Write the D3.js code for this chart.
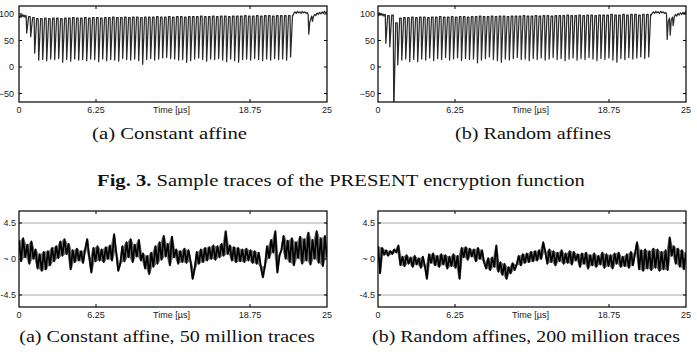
<!DOCTYPE html>
<html>
<head>
<meta charset="utf-8">
<script src="https://cdn.jsdelivr.net/npm/d3@7"></script>
<style>
  body { margin: 0; background: #fff; }
  svg { display: block; }
</style>
</head>
<body>
<div id="fig"></div>
<script>
// tick values and labels
const xTicks = [0, 6.25, 18.75, 25];
const xTickLabels = ["0", "6.25", "18.75", "25"];
const topYTicks = [100, 50, 0, -50];
const topYLabels = ["100", "50", "0", "\u221250"];
const botYTicks = [4.5, 0, -4.5];
const botYLabels = ["4.5", "~ 0", "-4.5"];
const gridLevels = [4.5, -4.5];

// (a) constant affine sample trace
const headA = [[0, 96], [0.07, 93], [0.13, 98], [0.2, 94], [0.27, 99], [0.34, 95], [0.41, 98], [0.48, 94], [0.55, 97]];
const spikeSpanA = [0.58, 22.0];
const spikePeakA = [
  97, 95, 93, 91, 91, 92, 91, 92, 92, 91,
  92, 92, 93, 92, 92, 93, 92, 93, 93, 92,
  93, 93, 94, 93, 93, 94, 93, 94, 94, 93,
  94, 94, 94, 95, 94, 94, 95, 94, 95, 95,
  94, 95, 95, 95, 96, 95, 95, 96, 95, 96,
  96, 95, 96, 96, 96, 97, 96, 96, 97, 96,
  97, 97, 96, 97, 97, 97, 97];
const spikeMinA = [
  64, 57, 26, 13, 14, 12, 15, 14, 16, 9,
  14, 11, 15, 13, 14, 12, 15, 14, 10, 15,
  12, 14, 13, 11, 16, 14, 13, 15, 12, 5,
  14, 16, 13, 15, 17, 18, 16, 15, 13, 14,
  9, 12, 15, 17, 14, 11, 15, 14, 16, 13,
  10, 15, 12, 9, 14, 15, 13, 16, 14, 12,
  15, 13, 16, 14, 15, 13, 19];
const tailA = [[22.22, 96], [22.3, 101], [22.4, 104], [22.5, 101], [22.6, 105], [22.7, 102], [22.8, 104],
  [22.9, 101], [23.0, 105], [23.1, 102], [23.2, 104], [23.3, 101], [23.4, 103], [23.47, 99], [23.52, 62],
  [23.6, 84], [23.7, 92], [23.76, 96], [23.82, 86], [23.9, 95], [24.0, 99], [24.1, 97], [24.2, 102],
  [24.3, 99], [24.4, 103], [24.5, 100], [24.6, 104], [24.7, 101], [24.8, 105], [24.9, 102], [25, 104]];

// (b) random affines sample trace
const headB = [[0, 100], [0.07, 97], [0.13, 102], [0.2, 98], [0.27, 101], [0.34, 97], [0.41, 100], [0.48, 96], [0.55, 99]];
const spikeSpanB = [0.59, 21.93];
const spikePeakB = [
  99, 97, 98, 83, 92, 93, 93, 94, 93, 94,
  94, 93, 94, 94, 95, 94, 94, 95, 94, 95,
  95, 94, 95, 95, 96, 95, 95, 96, 95, 96,
  96, 95, 96, 96, 96, 97, 96, 96, 97, 96,
  97, 97, 96, 97, 97, 97, 98, 97, 97, 98,
  97, 98, 98, 97, 98, 98, 98, 99, 98, 98,
  99, 98, 99, 99, 98, 99, 99];
const spikeMinB = [
  45, 38, -90, 4, 13, 15, 10, 14, 10, 15,
  13, 17, 12, 16, 14, 18, 13, 15, 17, 12,
  16, 14, 15, 8, 13, 16, 19, 14, 12, 9,
  15, 13, 16, 18, 14, 15, 12, 16, 14, 17,
  13, 15, 18, 14, 16, 12, 15, 17, 13, 16,
  14, 18, 15, 12, 16, 14, 17, 13, 9, 16,
  14, 18, 15, 17, 19, 16, 19];
const tailB = [[22.15, 97], [22.25, 101], [22.35, 104], [22.45, 101], [22.55, 105], [22.65, 102], [22.75, 104],
  [22.85, 101], [22.95, 105], [23.05, 102], [23.15, 104], [23.25, 101], [23.35, 103], [23.42, 100], [23.47, 52],
  [23.56, 86], [23.66, 92], [23.72, 60], [23.8, 88], [23.9, 94], [23.96, 78], [24.05, 95], [24.15, 99],
  [24.25, 96], [24.35, 101], [24.45, 98], [24.55, 102], [24.65, 99], [24.75, 103], [24.85, 100], [24.95, 104], [25, 101]];

// t-test traces, evenly sampled over 0..25 us
const tTestA = [
  2.3, -0.3, 2.6, 0.2, 1.8, -0.6, 2.2, 0.0, 1.2, -1.2,
  0.6, -1.5, 0.9, -1.3, 1.0, -0.8, 1.4, -0.3, 1.6, 0.1,
  2.2, 0.4, 2.5, 0.6, 1.9, -1.3, 1.1, -0.4, 1.3, -0.2,
  1.0, -0.5, 1.2, 2.5, 0.2, -1.7, 1.4, -0.3, 1.6, -0.2,
  1.2, -0.4, 1.5, 0.0, 1.7, -0.2, 3.1, 0.9, -1.5, -0.6,
  1.6, -0.3, 2.1, 0.2, 2.5, -0.4, 1.8, 0.3, 2.4, -0.2,
  0.7, -1.2, 0.4, -1.9, 0.8, -1.0, 1.6, -0.6, 2.1, -0.1,
  2.9, 0.3, 1.9, -0.8, 2.8, 0.2, 1.2, -0.6, 1.0, -0.4,
  1.3, -0.5, 1.1, -0.3, -2.5, -1.2, 0.9, -0.6, 1.2, -0.4,
  1.4, -0.2, 1.5, 0.0, 1.7, -0.1, 1.6, 0.2, 1.9, 0.4,
  3.5, 0.6, 1.7, -0.2, 1.5, -0.4, 1.4, -0.3, 1.2, -0.4,
  1.3, -0.2, 1.1, -0.5, 1.0, -0.6, 0.8, -1.0, -2.3, -0.8,
  1.6, 0.1, 2.4, 0.8, 3.5, -1.7, 0.4, 1.2, 2.9, 0.0,
  2.3, -0.4, 2.6, -0.8, 2.1, 0.1, 2.8, -0.6, 2.5, -0.2,
  3.3, -0.7, 2.4, 0.0, 3.5, -0.5, 2.6, -0.9, 2.9, 0.2];
const tTestB = [
  1.6, -1.8, 1.4, 0.5, 1.1, 0.4, 1.0, 0.6, 1.2, 0.8,
  1.7, -0.8, 0.3, -0.9, 0.5, -0.6, 0.2, -1.0, 0.4, -0.7,
  0.1, -1.1, 0.3, -0.9, -2.5, 0.6, -0.5, 0.7, -0.8, 0.4,
  -1.0, 0.6, -0.7, 0.5, -1.2, 0.3, -0.9, 0.6, -1.1, 0.4,
  -2.5, 1.4, 0.2, 1.5, -0.1, 1.3, 0.3, 1.2, -0.3, 1.4,
  0.0, 1.1, -0.4, -1.2, 0.1, -1.4, 0.2, -1.0, 1.7, -1.6,
  -0.4, -2.0, -0.6, -2.5, -1.0, -1.8, -0.5, -1.4, -0.7, 0.4,
  -0.8, 0.6, -0.5, 0.7, -0.4, 0.9, -0.3, 1.0, -0.2, 1.1,
  0.0, 2.1, 0.9, -0.6, 1.2, -0.4, 1.0, -0.8, 0.8, -0.3,
  1.1, -0.6, 0.7, -0.5, 1.0, -0.7, 0.9, -0.2, 0.6, -1.0,
  0.7, -0.6, 0.8, -1.2, 0.5, -0.8, 0.7, -1.0, 0.4, -0.7,
  0.8, -1.1, 0.6, -0.9, 0.5, -1.2, 0.7, -0.6, 0.8, -1.0,
  0.3, -0.9, 0.6, -1.1, 0.9, -0.8, 0.7, 2.1, -1.3, 1.1,
  -1.5, 1.2, -1.2, 1.0, -1.4, 1.3, -1.1, 1.2, -1.5, 0.9,
  -1.3, 1.1, -1.4, 2.7, 0.4, 1.6, -0.6, 1.3, -1.0, 1.1,
  -1.3, 0.8];

const W = 697, H = 354;
const svg = d3.select("#fig").append("svg")
  .attr("width", W).attr("height", H)
  .attr("viewBox", `0 0 ${W} ${H}`);

const sans = "'Liberation Sans', Arial, sans-serif";
const serif = "'Liberation Serif', 'Times New Roman', serif";

// build the spike train of a sample trace
function sampleTrace(head, span, peaks, mins, tail) {
  const idx = d3.scaleLinear().domain([0, mins.length - 1]).range(span);
  const dt = idx(1) - idx(0);
  const pts = head.slice();
  mins.forEach((m, i) => {
    const t = idx(i);
    const next = i + 1 < peaks.length ? peaks[i + 1] : peaks[i];
    pts.push([t, peaks[i]]);
    pts.push([t + dt * 0.14, m]);
    pts.push([t + dt * 0.62, next]);
  });
  return pts.concat(tail);
}

function drawPanel(p, n) {
  const x = d3.scaleLinear().domain([0, 25]).range([p.x0, p.x1]);
  const y = d3.scaleLinear().domain(p.yDomain).range([p.y1, p.y0]);
  const g = svg.append("g");

  g.append("clipPath").attr("id", "clip" + n)
    .append("rect")
    .attr("x", p.x0).attr("y", p.y0)
    .attr("width", p.x1 - p.x0).attr("height", p.y1 - p.y0);

  if (p.grid) {
    g.selectAll("line.grid").data(p.grid).enter().append("line")
      .attr("class", "grid")
      .attr("x1", p.x0).attr("x2", p.x1)
      .attr("y1", d => y(d)).attr("y2", d => y(d))
      .attr("stroke", "#a8a8a8").attr("stroke-width", 1);
  }

  // dense noise: fill the band between neighbouring samples
  if (p.band) {
    const pairs = d3.pairs(p.points);
    const area = d3.area()
      .x(d => x((d[0][0] + d[1][0]) / 2))
      .y0(d => y(Math.min(d[0][1], d[1][1])))
      .y1(d => y(Math.max(d[0][1], d[1][1])));
    g.append("path")
      .datum(pairs)
      .attr("clip-path", `url(#clip${n})`)
      .attr("fill", "#000").attr("fill-opacity", 0.55)
      .attr("d", area);
  }

  const line = d3.line().x(d => x(d[0])).y(d => y(d[1]));
  g.append("path")
    .datum(p.points)
    .attr("clip-path", `url(#clip${n})`)
    .attr("fill", "none")
    .attr("stroke", p.color)
    .attr("stroke-width", p.lw)
    .attr("stroke-linejoin", "round")
    .attr("d", line);

  // inward ticks on all four sides
  const tl = 3;
  const innerX = xTicks.filter(d => d > 0 && d < 25);
  innerX.forEach(d => {
    g.append("line").attr("x1", x(d)).attr("x2", x(d)).attr("y1", p.y1).attr("y2", p.y1 - tl)
      .attr("stroke", "#000");
    g.append("line").attr("x1", x(d)).attr("x2", x(d)).attr("y1", p.y0).attr("y2", p.y0 + tl)
      .attr("stroke", "#000");
  });
  p.yTicks.forEach(d => {
    g.append("line").attr("x1", p.x0).attr("x2", p.x0 + tl).attr("y1", y(d)).attr("y2", y(d))
      .attr("stroke", "#000");
    g.append("line").attr("x1", p.x1).attr("x2", p.x1 - tl).attr("y1", y(d)).attr("y2", y(d))
      .attr("stroke", "#000");
  });

  g.append("rect")
    .attr("x", p.x0).attr("y", p.y0)
    .attr("width", p.x1 - p.x0).attr("height", p.y1 - p.y0)
    .attr("fill", "none").attr("stroke", "#000").attr("stroke-width", 1.2);

  g.selectAll("text.yl").data(p.yTicks).enter().append("text")
    .attr("class", "yl")
    .attr("x", p.x0 - p.yLabelGap)
    .attr("y", d => y(d) + 3.2)
    .attr("text-anchor", "end")
    .style("font-family", sans).style("font-size", "9px").attr("fill", "#222")
    .text((d, i) => p.yLabels[i]);

  g.selectAll("text.xl").data(xTicks).enter().append("text")
    .attr("class", "xl")
    .attr("x", d => x(d))
    .attr("y", p.y1 + 11)
    .attr("text-anchor", "middle")
    .style("font-family", sans).style("font-size", "9px").attr("fill", "#222")
    .text((d, i) => xTickLabels[i]);

  g.append("text")
    .attr("x", (p.x0 + p.x1) / 2 - 1.5)
    .attr("y", p.y1 + 10.5)
    .attr("text-anchor", "middle")
    .style("font-family", sans).style("font-size", "9px").attr("fill", "#222")
    .text("Time [\u00b5s]");
}

const topDomain = [-66, 115];
const botDomain = [-6, 6];
const panels = [
  { x0: 19, x1: 327, y0: 6, y1: 102, yDomain: topDomain, yTicks: topYTicks, yLabels: topYLabels, yLabelGap: 5,
    color: "#2b2b2b", lw: 1.25, points: sampleTrace(headA, spikeSpanA, spikePeakA, spikeMinA, tailA) },
  { x0: 378, x1: 686, y0: 6, y1: 102, yDomain: topDomain, yTicks: topYTicks, yLabels: topYLabels, yLabelGap: 3,
    color: "#2b2b2b", lw: 1.25, points: sampleTrace(headB, spikeSpanB, spikePeakB, spikeMinB, tailB) },
  { x0: 19, x1: 327, y0: 211, y1: 307, yDomain: botDomain, yTicks: botYTicks, yLabels: botYLabels, yLabelGap: 3,
    grid: gridLevels, band: true, color: "#000", lw: 1.7,
    points: tTestA.map((v, i) => [i * 25 / (tTestA.length - 1), v]) },
  { x0: 378, x1: 686, y0: 211, y1: 307, yDomain: botDomain, yTicks: botYTicks, yLabels: botYLabels, yLabelGap: 3,
    grid: gridLevels, band: true, color: "#000", lw: 1.7,
    points: tTestB.map((v, i) => [i * 25 / (tTestB.length - 1), v]) }
];
panels.forEach(drawPanel);

// captions, squeezed/stretched to the widths seen in the figure
function caption(parts, cx, base, width) {
  const t = svg.append("text")
    .attr("text-anchor", "middle")
    .style("font-family", serif).style("font-size", "17px").attr("fill", "#111");
  parts.forEach(p => {
    t.append("tspan").attr("font-weight", p.bold ? "bold" : "normal").text(p.text);
  });
  const w = t.node().getComputedTextLength();
  t.attr("transform", `translate(${cx},${base}) scale(${width / w},1)`);
}

caption([{ text: "(a) Constant affine" }], 169.5, 139, 155);
caption([{ text: "(b) Random affines" }], 533, 139, 156);
caption([{ text: "Fig. 3.", bold: true }, { text: " Sample traces of the PRESENT encryption function" }], 341, 186, 488);
caption([{ text: "(a) Constant affine, 50 million traces" }], 167, 342, 296);
caption([{ text: "(b) Random affines, 200 million traces" }], 526, 342, 308);
</script>
</body>
</html>
